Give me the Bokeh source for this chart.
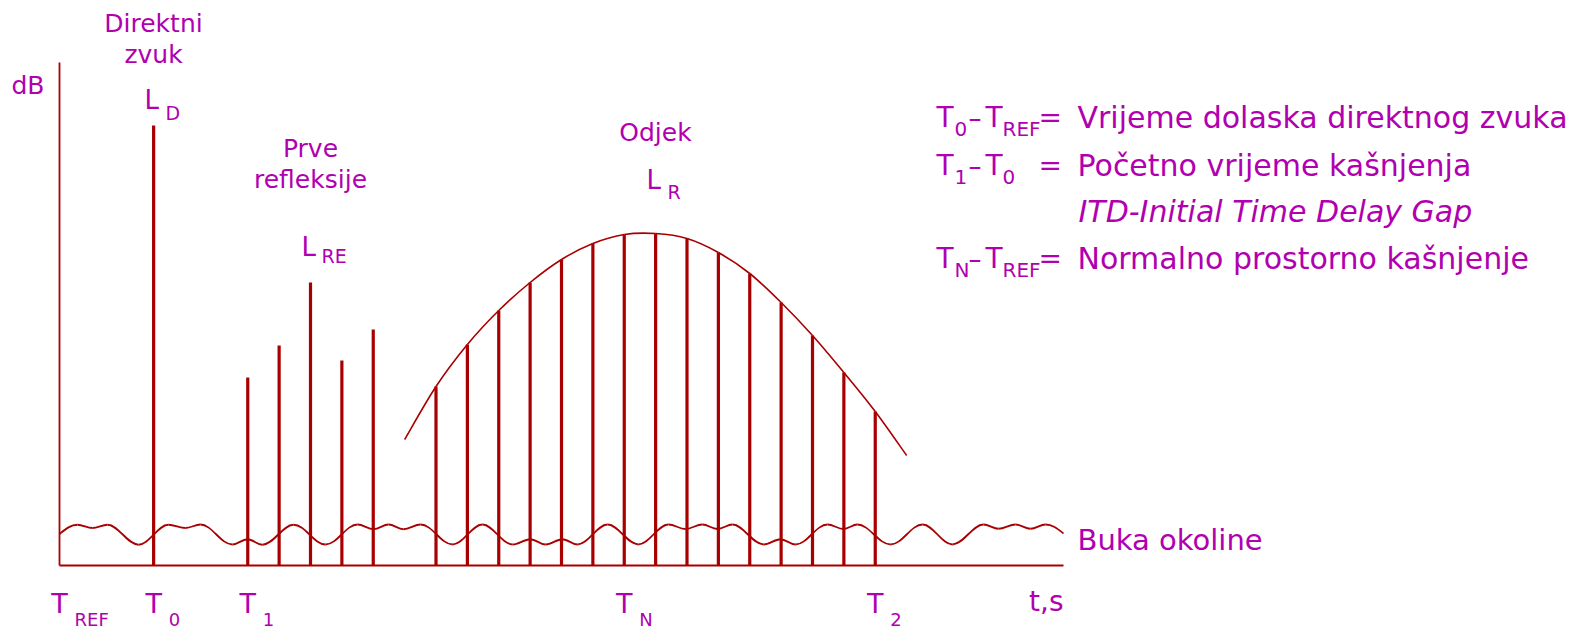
from bokeh.plotting import figure
from bokeh.models import Range1d
from bokeh.core.properties import value
from bokeh.embed import file_html
from bokeh.resources import INLINE

# ---------------------------------------------------------------------------
# Data: time in arrival slots, level in relative dB above the time axis
# ---------------------------------------------------------------------------
direct_times = [3]
direct_levels = [88.0]

reflection_times = [6, 7, 8, 9, 10]
reflection_levels = [37.6, 44.0, 56.6, 41.0, 47.2]

reverb_times = [12, 13, 14, 15, 16, 17, 18, 19, 20, 21, 22, 23, 24, 25, 26]
reverb_levels = [35.8, 44.2, 51.0, 56.6, 61.2, 64.4, 66.2, 66.4, 65.4,
                 62.6, 58.4, 52.6, 46.0, 38.6, 30.8]

# decay envelope: open ends beyond the first and last reverb impulse
envelope_head = (11.0, 25.2)
envelope_tail = (27.0, 22.0)

# ambient noise: turning points of the wavy floor line
noise_times = [0.00, 0.57, 1.05, 1.53, 2.52, 3.47, 4.02, 4.49, 5.51, 5.99,
               6.47, 7.46, 8.48, 9.50, 10.01, 10.49, 10.96, 11.51, 12.53, 13.48,
               14.44, 15.01, 15.49, 16.03, 16.51, 17.47, 18.45, 19.41, 19.95, 20.49,
               20.97, 21.45, 22.44, 22.98, 23.46, 24.48, 24.99, 25.43, 26.49, 27.51,
               28.46, 29.45, 29.93, 30.47, 30.95, 31.43, 32.00]
noise_levels = [6.3, 8.15, 7.5, 8.15, 4.15, 8.15, 7.5, 8.2, 4.2, 5.25,
                4.15, 8.15, 4.2, 8.2, 7.25, 8.2, 7.25, 8.2, 4.2, 8.2,
                4.2, 5.25, 4.2, 5.25, 4.2, 8.2, 4.2, 8.2, 7.3, 8.2,
                7.3, 8.2, 4.2, 5.25, 4.2, 8.2, 7.3, 8.2, 4.2, 8.2,
                4.2, 8.2, 7.35, 8.2, 7.35, 8.2, 6.4]

tick_times = [0, 3, 6, 18, 26]
tick_subscripts = ["REF", "0", "1", "N", "2"]

time_axis_end = 32
level_axis_top = 100.6

# ---------------------------------------------------------------------------
# Canvas geometry
# ---------------------------------------------------------------------------
W, H = 1583, 631
ORIGIN_X, ORIGIN_Y = 59, 565       # pixel position of the axes origin
PX_PER_T, PX_PER_L = 31.375, 5.0   # pixels per time slot / per level unit

LINE = "#A80000"
TEXT = "#B000B0"
FONT = "DejaVu Sans"
MID = 0.35                         # cap middle above the baseline, in em


def dx(px):
    return (px - ORIGIN_X) / PX_PER_T


def dy(py):
    return (ORIGIN_Y - py) / PX_PER_L


p = figure(width=W, height=H, output_backend="svg", toolbar_location=None,
           x_range=Range1d(dx(0), dx(W)), y_range=Range1d(dy(H), dy(0)),
           x_axis_location=None, y_axis_location=None, min_border=0,
           outline_line_color=None, background_fill_color="white",
           border_fill_color="white")
p.xgrid.visible = False
p.ygrid.visible = False

# axes drawn as plain lines
p.line([0, 0], [0, level_axis_top], line_color=LINE, line_width=1.8)
p.line([0, time_axis_end], [0, 0], line_color=LINE, line_width=2)

# ambient noise as a chain of smooth half-waves between turning points
K = 0.364
nx0, ny0, nx1, ny1, ncx0, ncy0, ncx1, ncy1 = [], [], [], [], [], [], [], []
last = len(noise_times) - 1
for i in range(last):
    x0, y0 = noise_times[i], noise_levels[i]
    x1, y1 = noise_times[i + 1], noise_levels[i + 1]
    step = x1 - x0
    c0y = y0 + (y1 - y0) * 0.57 if i == 0 else y0
    c1y = y1 + (y0 - y1) * 0.57 if i + 1 == last else y1
    nx0.append(x0); ny0.append(y0); nx1.append(x1); ny1.append(y1)
    ncx0.append(x0 + K * step); ncy0.append(c0y)
    ncx1.append(x1 - K * step); ncy1.append(c1y)
p.bezier(x0=nx0, y0=ny0, x1=nx1, y1=ny1, cx0=ncx0, cy0=ncy0, cx1=ncx1, cy1=ncy1,
         line_color=LINE, line_width=1.8)

# impulses
p.segment(x0=direct_times, y0=[0] * len(direct_times), x1=direct_times,
          y1=direct_levels, line_color=LINE, line_width=3.2)
p.segment(x0=reflection_times, y0=[0] * len(reflection_times), x1=reflection_times,
          y1=reflection_levels, line_color=LINE, line_width=3.2)
p.segment(x0=reverb_times, y0=[0] * len(reverb_times), x1=reverb_times,
          y1=reverb_levels, line_color=LINE, line_width=3.2)

# envelope through the reverb tops (Catmull-Rom converted to Bezier pieces)
ex = [envelope_head[0]] + reverb_times + [envelope_tail[0]]
ey = [envelope_head[1]] + reverb_levels + [envelope_tail[1]]
n = len(ex)
ex0, ey0, ex1, ey1, ecx0, ecy0, ecx1, ecy1 = [], [], [], [], [], [], [], []
for i in range(n - 1):
    a = max(i - 1, 0)
    d = min(i + 2, n - 1)
    ex0.append(ex[i]); ey0.append(ey[i]); ex1.append(ex[i + 1]); ey1.append(ey[i + 1])
    ecx0.append(ex[i] + (ex[i + 1] - ex[a]) / 6); ecy0.append(ey[i] + (ey[i + 1] - ey[a]) / 6)
    ecx1.append(ex[i + 1] - (ex[d] - ex[i]) / 6); ecy1.append(ey[i + 1] - (ey[d] - ey[i]) / 6)
p.bezier(x0=ex0, y0=ey0, x1=ex1, y1=ey1, cx0=ecx0, cy0=ecy0, cx1=ecx1, cy1=ecy1,
         line_color=LINE, line_width=1.6)


def label(text, px, base, size, align="left", style="normal"):
    """Place text by its pixel baseline (drawn centred on the cap middle)."""
    p.text(x=[dx(px)], y=[dy(base - MID * size)], text=[text], text_font=value(FONT),
           text_font_size=f"{size}px", text_align=align, text_baseline="middle",
           text_color=TEXT, text_font_style=style)


# time axis names
p.text(x=tick_times, y=[dy(612 - MID * 27)] * len(tick_times), text=["T"] * len(tick_times),
       text_font=value(FONT), text_font_size="27px", text_align="center",
       text_baseline="middle", text_color=TEXT)
p.text(x=tick_times, y=[dy(619)] * len(tick_times), text=tick_subscripts, x_offset=15,
       text_font=value(FONT), text_font_size="18px", text_align="left",
       text_baseline="middle", text_color=TEXT)
label("t,s", 1063, 611, 28, "right")

# level axis unit
label("dB", 11, 94, 25)

# direct sound
label("Direktni", 153, 32, 25, "center")
label("zvuk", 153, 63, 25, "center")
label("L", 144, 109, 26)
label("D", 165, 119, 19)

# early reflections
label("Prve", 310, 157, 25, "center")
label("refleksije", 310, 188, 25, "center")
label("L", 301, 256, 26)
label("RE", 321, 262, 19)

# reverberation
label("Odjek", 655, 141, 25, "center")
label("L", 646, 189, 26)
label("R", 667, 198, 19)

# ambient noise
label("Buka okoline", 1077, 550, 29)


# definitions block
def definition(sub_a, sub_b, text, base):
    label("T", 936, base, 28)
    label(sub_a, 954, base + 8, 20)
    label("\u2013", 968, base, 26)
    label("T", 985, base, 28)
    label(sub_b, 1002, base + 8, 20)
    label("=", 1038, base, 28)
    label(text, 1077, base, 30)


definition("0", "REF", "Vrijeme dolaska direktnog zvuka", 127)
definition("1", "0", "Početno vrijeme kašnjenja", 175)
label("ITD-Initial Time Delay Gap", 1078, 221, 30, style="italic")
definition("N", "REF", "Normalno prostorno kašnjenje", 268)

open("out.html", "w").write(file_html(p, INLINE))
